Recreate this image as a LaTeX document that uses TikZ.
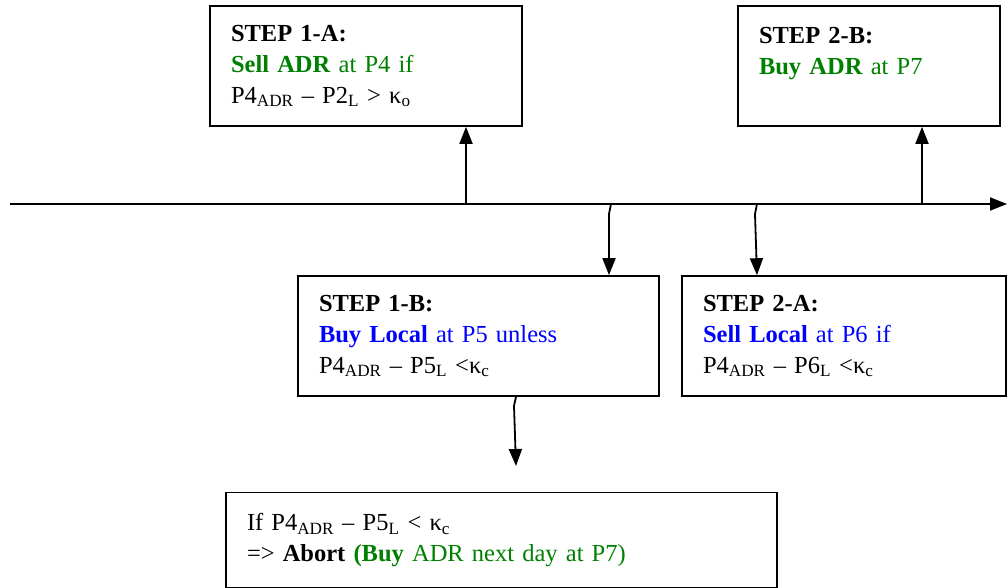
\documentclass[tikz,border=0pt]{standalone}
\usepackage{fontspec}
\setmainfont{Liberation Serif}
\usetikzlibrary{arrows.meta}
\definecolor{adrgreen}{RGB}{0,128,0}
\definecolor{localblue}{RGB}{0,0,255}
\newcommand{\lo}[1]{\textsubscript{#1}}

\begin{document}
\begin{tikzpicture}[x=1pt, y=-1pt,
	stepbox/.style={draw, line width=1.6pt, align=left, inner xsep=21pt, inner ysep=2pt,
		font=\fontsize{24.5}{31}\selectfont},
	arr/.style={-{Triangle[length=17pt,width=13pt]}, line width=1.8pt}]
		\useasboundingbox (0,0) rectangle (1007,588);

		\node (s1a) [stepbox, text width=270pt, minimum height=120pt] at (366,66)
			{\textbf{STEP 1-A:}\\ \color{adrgreen}\textbf{Sell ADR} at P4 if\\ \color{black}P4\lo{ADR} – P2\lo{L} > κ\lo{o}};
		\node (s2b) [stepbox, text width=220pt, minimum height=120pt] at (869,66)
			{\textbf{STEP 2-B:}\\ \color{adrgreen}\textbf{Buy ADR} at P7\\ \mbox{}};
		\node (s1b) [stepbox, text width=319pt, minimum height=120pt] at (478.5,336)
			{\textbf{STEP 1-B:}\\ \color{localblue}\textbf{Buy Local} at P5 unless\\ \color{black}P4\lo{ADR} – P5\lo{L} <κ\lo{c}};
		\node (s2a) [stepbox, text width=282pt, minimum height=120pt] at (844,336)
			{\textbf{STEP 2-A:}\\ \color{localblue}\textbf{Sell Local} at P6 if\\ \color{black}P4\lo{ADR} – P6\lo{L} <κ\lo{c}};
		\node (abort) [stepbox, text width=509pt, minimum height=95pt] at (501.5,540)
			{If P4\lo{ADR} – P5\lo{L} < κ\lo{c}\\ => \textbf{Abort} {\color{adrgreen}\textbf{(Buy} ADR next day at P7)}};

		% time line
		\coordinate (t0) at (10,204);
		\coordinate (t1) at (1007,204);
		\coordinate (p4) at (466,204);
		\coordinate (p5) at (611,204);
		\coordinate (p6) at (757,204);
		\coordinate (p7) at (922,204);
		\coordinate (ab) at (516,466);
		\draw [arr] (t0) -- (t1);

		\draw [arr] (p4) -- (p4 |- s1a.south);
		\draw [arr] (p5) -- ++(-2,10) -- ([xshift=-2pt]p5 |- s1b.north);
		\draw [arr] (p6) -- ++(-2,10) -- (p6 |- s2a.north);
		\draw [arr] (p7) -- (p7 |- s2b.south);
		\draw [arr] ([xshift=37.5pt]s1b.south) -- ++(-2,9) -- (ab);
	\end{tikzpicture}
\end{document}
